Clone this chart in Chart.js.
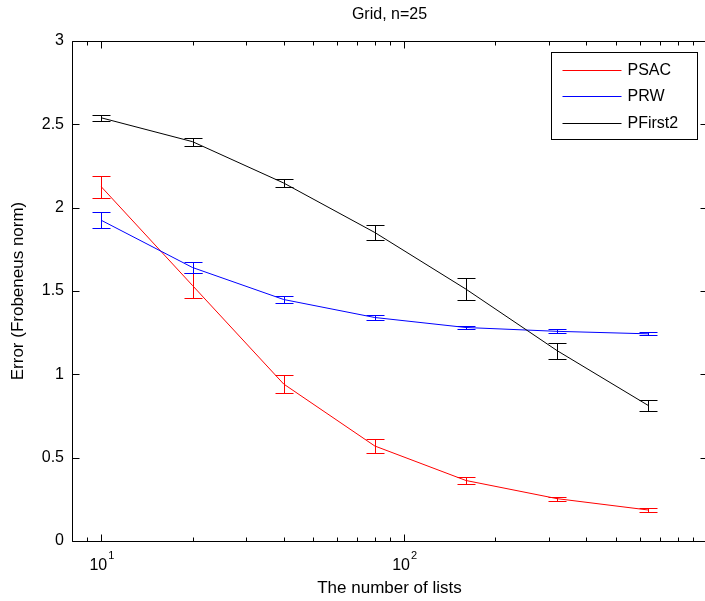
<!DOCTYPE html>
<html>
<head>
<meta charset="utf-8">
<script src="https://cdn.jsdelivr.net/npm/chart.js@4"></script>
<style>
  html, body { margin: 0; padding: 0; background: #fff; overflow: hidden; }
  #wrap { width: 705px; height: 601px; overflow: hidden; }
</style>
</head>
<body>
<div id="wrap"><canvas id="chart1" width="720" height="601"></canvas></div>
<script>
// valores
const listCounts = [10, 20, 40, 80, 160, 320, 640];

const psacMean = [2.125, 1.533, 0.942, 0.57, 0.363, 0.254, 0.186];
const psacErr = [0.065, 0.075, 0.054, 0.042, 0.023, 0.012, 0.014];

const prwMean = [1.924, 1.641, 1.449, 1.341, 1.281, 1.258, 1.243];
const prwErr = [0.048, 0.033, 0.021, 0.015, 0.009, 0.012, 0.009];

const pfirstMean = [2.539, 2.396, 2.148, 1.851, 1.511, 1.142, 0.813];
const pfirstErr = [0.017, 0.024, 0.024, 0.045, 0.065, 0.048, 0.033];

const xTicks = [8, 9, 10, 20, 30, 40, 50, 60, 70, 80, 90, 100, 200, 300, 400, 500, 600, 700, 800, 900, 1000];
const xMajorTicks = [10, 100];
const xMajorExponents = ['1', '2'];
const yTicks = [0, 0.5, 1, 1.5, 2, 2.5, 3];

const fontFamily = "'Liberation Sans', Arial, Helvetica, sans-serif";
Chart.defaults.font.family = fontFamily;
Chart.defaults.color = '#000';

function points(means) {
    return listCounts.map((n, i) => ({ x: n, y: means[i] }));
}

function crisp(v) {
    return Math.round(v) + 0.5;
}

// barras de erro
const errorBars = {
    id: 'errorBars',
    afterDatasetsDraw(chart) {
        const ctx = chart.ctx;
        const xs = chart.scales.x;
        const ys = chart.scales.y;
        ctx.save();
        ctx.lineWidth = 1;
        chart.data.datasets.forEach(ds => {
            ctx.strokeStyle = ds.borderColor;
            ds.data.forEach((p, i) => {
                const x = crisp(xs.getPixelForValue(p.x));
                const y1 = crisp(ys.getPixelForValue(p.y + ds.errors[i]));
                const y2 = crisp(ys.getPixelForValue(p.y - ds.errors[i]));
                ctx.beginPath();
                ctx.moveTo(x, y1); ctx.lineTo(x, y2);
                ctx.moveTo(x - 9, y1); ctx.lineTo(x + 9, y1);
                ctx.moveTo(x - 9, y2); ctx.lineTo(x + 9, y2);
                ctx.stroke();
            });
        });
        ctx.restore();
    }
};

// moldura, ticks para dentro, rótulos 10^n e legenda
const frameAndLegend = {
    id: 'frameAndLegend',
    afterDraw(chart) {
        const ctx = chart.ctx;
        const a = chart.chartArea;
        const xs = chart.scales.x;
        const ys = chart.scales.y;
        const left = crisp(a.left), right = crisp(a.right);
        const top = crisp(a.top), bottom = crisp(a.bottom);

        ctx.save();
        ctx.strokeStyle = '#000';
        ctx.lineWidth = 1;
        ctx.beginPath();
        ctx.rect(left, top, right - left, bottom - top);

        xs.ticks.forEach(t => {
            const x = crisp(xs.getPixelForValue(t.value));
            const len = xMajorTicks.includes(t.value) ? 7 : 4;
            ctx.moveTo(x, bottom); ctx.lineTo(x, bottom - len);
            ctx.moveTo(x, top); ctx.lineTo(x, top + len);
        });
        ys.ticks.forEach(t => {
            const y = crisp(ys.getPixelForValue(t.value));
            ctx.moveTo(left, y); ctx.lineTo(left + 7, y);
            ctx.moveTo(right, y); ctx.lineTo(right - 7, y);
        });
        ctx.stroke();

        // 10 com expoente
        ctx.fillStyle = '#000';
        ctx.textBaseline = 'alphabetic';
        ctx.textAlign = 'left';
        xMajorTicks.forEach((v, i) => {
            const px = xs.getPixelForValue(v);
            ctx.font = '16px ' + fontFamily;
            const wBase = ctx.measureText('10').width;
            ctx.font = '11px ' + fontFamily;
            const wExp = ctx.measureText(xMajorExponents[i]).width;
            const x0 = px - (wBase + wExp) / 2;
            ctx.font = '16px ' + fontFamily;
            ctx.fillText('10', x0, a.bottom + 29);
            ctx.font = '11px ' + fontFamily;
            ctx.fillText(xMajorExponents[i], x0 + wBase + 1, a.bottom + 18);
        });

        const boxW = 146, boxH = 87;
        const bx = crisp(a.right - 10 - boxW);
        const by = crisp(a.top + 11);
        ctx.fillStyle = '#fff';
        ctx.fillRect(bx, by, boxW, boxH);
        ctx.strokeStyle = '#000';
        ctx.strokeRect(bx, by, boxW, boxH);

        ctx.font = '16px ' + fontFamily;
        ctx.textBaseline = 'middle';
        ctx.textAlign = 'left';
        chart.data.datasets.forEach((ds, i) => {
            const y = crisp(by + 17 + i * 26.5);
            ctx.strokeStyle = ds.borderColor;
            ctx.beginPath();
            ctx.moveTo(bx + 11, y);
            ctx.lineTo(bx + 70, y);
            ctx.stroke();
            ctx.fillStyle = '#000';
            ctx.fillText(ds.label, bx + 76, y);
        });
        ctx.restore();
    }
};

var ctx1 = document.getElementById("chart1").getContext("2d");
var chart1 = new Chart(ctx1, {
    type: "line",
    data: {
        datasets: [
            {
                label: "PSAC",
                data: points(psacMean),
                errors: psacErr,
                borderColor: "#ff0000",
                order: 3,
            },
            {
                label: "PRW",
                data: points(prwMean),
                errors: prwErr,
                borderColor: "#0000ff",
                order: 2,
            },
            {
                label: "PFirst2",
                data: points(pfirstMean),
                errors: pfirstErr,
                borderColor: "#000000",
                order: 1,
            },
        ],
    },
    options: {
        responsive: false,
        animation: false,
        layout: { padding: { left: 0, right: 13, top: 0, bottom: 0 } },
        elements: {
            line: { borderWidth: 1, tension: 0, fill: false },
            point: { radius: 0, hoverRadius: 0 },
        },
        plugins: {
            legend: { display: false },
            tooltip: { enabled: false },
            title: {
                display: true,
                text: "Grid, n=25",
                fullSize: false,
                color: "#000",
                font: { size: 16, weight: "normal" },
                padding: { top: 5, bottom: 16.8 },
            },
        },
        scales: {
            x: {
                type: "logarithmic",
                min: 8,
                max: 1000,
                afterBuildTicks: s => { s.ticks = xTicks.map(v => ({ value: v })); },
                afterFit: s => { s.height = 60; },
                grid: { display: false, drawTicks: false },
                border: { display: false },
                ticks: { display: false, autoSkip: false },
                title: {
                    display: true,
                    text: "The number of lists",
                    font: { size: 17 },
                    padding: { top: 2, bottom: 2 },
                },
            },
            y: {
                min: 0,
                max: 3,
                afterBuildTicks: s => { s.ticks = yTicks.map(v => ({ value: v })); },
                afterFit: s => { s.width = 72; },
                grid: { display: false, drawTicks: false },
                border: { display: false },
                ticks: {
                    padding: 8,
                    font: { size: 16 },
                    callback: v => String(v),
                },
                title: {
                    display: true,
                    text: "Error (Frobeneus norm)",
                    font: { size: 17 },
                    padding: { top: 8, bottom: 8 },
                },
            },
        },
    },
    plugins: [errorBars, frameAndLegend],
});
</script>
</body>
</html>
